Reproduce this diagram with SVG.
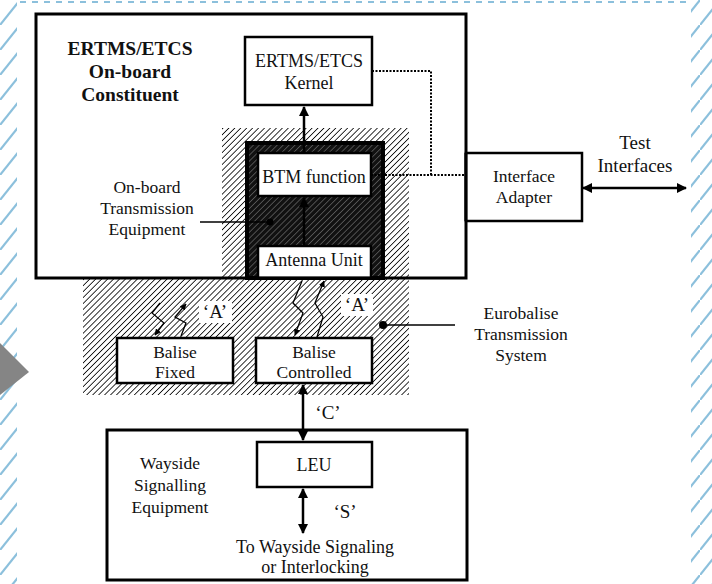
<svg xmlns="http://www.w3.org/2000/svg" width="712" height="584" viewBox="0 0 712 584">
<style>
  text { font-family: "Liberation Serif", "Times New Roman", serif; font-size: 17.5px; fill: #111; text-anchor: middle; }
  .bold { font-weight: bold; font-size: 19.5px; }
  .lbl { font-size: 18px; }
  .big { font-size: 19px; }
  .box { fill: #fff; stroke: #000; stroke-width: 2.5; }
  .thick { fill: none; stroke: #000; stroke-width: 3; }
  .line { fill: none; stroke: #000; stroke-width: 2.5; }
  .thin { fill: none; stroke: #000; stroke-width: 1.3; }
  .dot { fill: none; stroke: #000; stroke-width: 2; stroke-dasharray: 2 1.5; }
</style>
<defs>
  <pattern id="light" width="4.2" height="4.2" patternUnits="userSpaceOnUse" patternTransform="rotate(45)">
    <rect width="4.2" height="4.2" fill="#fff"/>
    <line x1="0" y1="0" x2="0" y2="4.2" stroke="#000" stroke-width="1.6"/>
  </pattern>
  <pattern id="dark" width="4.2" height="4.2" patternUnits="userSpaceOnUse" patternTransform="rotate(45)">
    <rect width="4.2" height="4.2" fill="#111"/>
    <line x1="0" y1="0" x2="0" y2="4.2" stroke="#8a8a8a" stroke-width="1"/>
  </pattern>
  <pattern id="blue" width="20" height="25" patternUnits="userSpaceOnUse">
    <line x1="-2" y1="27.5" x2="22" y2="-2.5" stroke="#8cc0dc" stroke-width="2.2"/>
  </pattern>
  <marker id="ah" viewBox="0 0 10 10" refX="9" refY="5" markerWidth="4" markerHeight="4" orient="auto-start-reverse">
    <path d="M0,0 L10,5 L0,10 z" fill="#000"/>
  </marker>
  <marker id="ahs" viewBox="0 0 10 10" refX="9" refY="5" markerWidth="5" markerHeight="5" orient="auto-start-reverse">
    <path d="M0,0 L10,5 L0,10 z" fill="#000"/>
  </marker>
</defs>

<!-- background -->
<rect width="712" height="584" fill="#fff"/>
<g id="background">
  <rect x="0" y="0" width="17" height="584" fill="url(#blue)"/>
  <rect x="691" y="0" width="21" height="584" fill="url(#blue)"/>
  <line x1="20" y1="2" x2="690" y2="2" stroke="#8cc0dc" stroke-width="2" stroke-dasharray="6 6"/>
  <polygon points="0,343 29,372 0,395" fill="#858585"/>
</g>

<!-- main onboard box fill -->
<g id="onboard">
  <rect x="36" y="14" width="430" height="264" fill="#fff"/>
</g>

<!-- transmission regions -->
<g id="eurobalise-region">
  <rect x="83" y="278" width="326" height="117" fill="url(#light)"/>
</g>
<g id="onboard-transmission">
  <rect x="222" y="128" width="187" height="150" fill="url(#light)"/>
  <rect x="247" y="143" width="136" height="135" fill="url(#dark)" stroke="#000" stroke-width="4"/>
</g>

<g id="kernel">
  <rect class="box" x="245" y="37" width="127" height="68"/>
  <text class="lbl" x="309" y="67">ERTMS/ETCS</text>
  <text class="lbl" x="309" y="89">Kernel</text>
</g>
<g id="btm">
  <rect class="box" x="258" y="153" width="113" height="43"/>
  <text class="lbl" x="314" y="183">BTM function</text>
</g>
<g id="antenna">
  <rect class="box" x="258" y="246" width="113" height="32"/>
  <text class="lbl" x="314" y="266">Antenna Unit</text>
</g>

<!-- main box border -->
<g id="onboard-border">
  <rect class="thick" x="36" y="14" width="430" height="264"/>
  <text class="bold" x="130" y="55">ERTMS/ETCS</text>
  <text class="bold" x="130" y="78">On-board</text>
  <text class="bold" x="130" y="101">Constituent</text>
</g>

<g id="onboard-label">
  <text x="147" y="193">On-board</text>
  <text x="147" y="214">Transmission</text>
  <text x="147" y="235">Equipment</text>
</g>

<g id="interface-adapter">
  <rect class="box" x="466" y="153" width="116" height="68"/>
  <line x1="466" y1="153" x2="466" y2="221" stroke="#000" stroke-width="3"/>
  <text x="524" y="182">Interface</text>
  <text x="524" y="203">Adapter</text>
</g>

<g id="balise-fixed">
  <rect class="box" x="117" y="338" width="116" height="45"/>
  <text x="175" y="358">Balise</text>
  <text x="175" y="378">Fixed</text>
</g>
<g id="balise-controlled">
  <rect class="box" x="256" y="338" width="116" height="45"/>
  <text x="314" y="358">Balise</text>
  <text x="314" y="378">Controlled</text>
</g>

<g id="wayside">
  <rect class="thick" x="107" y="430" width="360" height="150" fill="#fff"/>
  <text x="170" y="469">Wayside</text>
  <text x="170" y="491">Signalling</text>
  <text x="170" y="513">Equipment</text>
  <text class="lbl" x="315" y="553">To Wayside Signaling</text>
  <text class="lbl" x="315" y="573">or Interlocking</text>
</g>
<g id="leu">
  <rect class="box" x="257" y="442" width="115" height="45"/>
  <text class="lbl" x="314" y="471">LEU</text>
</g>

<g id="eurobalise-label">
  <text x="521" y="319">Eurobalise</text>
  <text x="521" y="340">Transmission</text>
  <text x="521" y="361">System</text>
</g>

<g id="test-label">
  <text class="big" x="635" y="149">Test</text>
  <text class="big" x="635" y="172">Interfaces</text>
</g>

<!-- connectors -->
<g id="connectors">
  <line class="line" x1="304" y1="153" x2="304" y2="107" marker-end="url(#ah)"/>
  <line class="line" x1="304" y1="246" x2="304" y2="198" marker-end="url(#ah)"/>
  <polyline class="dot" points="372,71 431,71 431,175"/>
  <line class="dot" x1="371" y1="175" x2="465" y2="175"/>
  <line class="line" x1="583" y1="188" x2="686" y2="188" marker-start="url(#ah)" marker-end="url(#ah)"/>
  <line class="thin" x1="200" y1="222" x2="268" y2="222"/>
  <circle cx="270" cy="222" r="3.5" fill="#000"/>
  <line class="thin" x1="383" y1="325" x2="455" y2="325"/>
  <circle cx="383" cy="325" r="4" fill="#000"/>
  <!-- zigzags fixed -->
  <polyline class="thin" points="160,303 152,313 164,323 155,335" marker-end="url(#ahs)"/>
  <polyline class="thin" points="181,336 186,323 175,317 186,304" marker-end="url(#ahs)"/>
  <!-- zigzags controlled -->
  <polyline class="thin" points="302,281 293,303 303,313 295,335" marker-end="url(#ahs)"/>
  <polyline class="thin" points="317,337 323,317 315,303 324,281" marker-end="url(#ahs)"/>
  <!-- A labels -->
  <rect x="199" y="301" width="33" height="22" fill="#fff"/>
  <text class="big" x="215" y="318">‘A’</text>
  <rect x="341" y="294" width="32" height="22" fill="#fff"/>
  <text class="big" x="357" y="311">‘A’</text>
  <!-- C -->
  <line class="line" x1="303" y1="385" x2="303" y2="440" marker-start="url(#ah)" marker-end="url(#ah)"/>
  <text class="big" x="328" y="419">‘C’</text>
  <!-- S -->
  <line class="line" x1="303" y1="489" x2="303" y2="533" marker-start="url(#ah)" marker-end="url(#ah)"/>
  <text class="big" x="345" y="518">‘S’</text>
</g>
</svg>
